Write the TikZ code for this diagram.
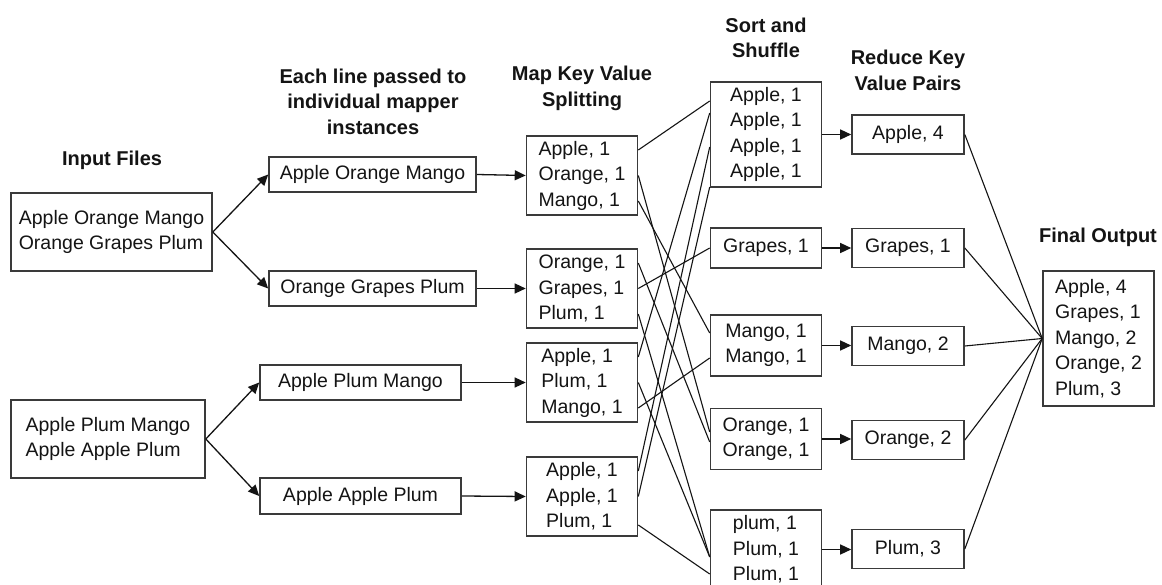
\documentclass[tikz,border=0pt]{standalone}
\usepackage{fontspec}
\setmainfont{Liberation Sans}
\usetikzlibrary{arrows.meta}
\definecolor{boxc}{HTML}{3A3A3A}
\definecolor{txt}{HTML}{141414}
\begin{document}
\begin{tikzpicture}[x=1pt,y=-1pt,
  box/.style={draw=boxc,line width=1.6pt,inner sep=0pt,align=left,
    font=\fontsize{19.5}{25.5}\selectfont,text=txt},
  hd/.style={font=\bfseries\fontsize{20}{25.5}\selectfont,align=center,inner sep=0pt,text=txt},
  arr/.style={line width=1.3pt,draw=txt,-{Triangle[length=11pt,width=10pt]}},
  link/.style={line width=1.1pt,draw=txt}]
\useasboundingbox[fill=white] (0,0) rectangle (1162,585);

% headings
\node[hd] (h1) at (112,160) {Input Files};
\node[hd] (h2) at (373,101.5) {Each line passed to\\individual mapper\\instances};
\node[hd] (h3) at (582,88.5) {Map Key Value\\Splitting};
\node[hd] (h4) at (766,38) {Sort and\\Shuffle};
\node[hd] (h5) at (908,70.5) {Reduce Key\\Value Pairs};
\node[hd] (h6) at (1098,237) {Final Output};

% input files
\node[box,minimum width=201pt,minimum height=78pt] (I1) at (111.5,232) {Apple Orange Mango\\Orange Grapes Plum};
\node[box,minimum width=194pt,minimum height=78pt] (I2) at (108,439) {Apple Plum Mango\\Apple Apple Plum};

% lines
\node[box,minimum width=207pt,minimum height=35pt] (A1) at (372.5,174.5) {Apple Orange Mango};
\node[box,minimum width=207pt,minimum height=35pt] (A2) at (372.5,288.5) {Orange Grapes Plum};
\node[box,minimum width=201pt,minimum height=35pt] (A3) at (360.5,382.5) {Apple Plum Mango};
\node[box,minimum width=201pt,minimum height=36pt] (A4) at (360.5,496) {Apple Apple Plum};

% map
\node[box,minimum width=111pt,minimum height=79pt] (M1) at (582,175.5) {Apple, 1\\Orange, 1\\Mango, 1};
\node[box,minimum width=111pt,minimum height=79pt] (M2) at (582,288.5) {Orange, 1\\Grapes, 1\\Plum, 1};
\node[box,minimum width=111pt,minimum height=79pt] (M3) at (582,382.5) {Apple, 1\\Plum, 1\\Mango, 1};
\node[box,minimum width=111pt,minimum height=79pt] (M4) at (582,496.5) {Apple, 1\\Apple, 1\\Plum, 1};

% sort and shuffle
\node[box,minimum width=111pt,minimum height=105pt] (S1) at (766,134.5) {Apple, 1\\Apple, 1\\Apple, 1\\Apple, 1};
\node[box,minimum width=111pt,minimum height=40pt] (S2) at (766,248) {Grapes, 1};
\node[box,minimum width=111pt,minimum height=61pt] (S3) at (766,345.5) {Mango, 1\\Mango, 1};
\node[box,minimum width=111pt,minimum height=61pt] (S4) at (766,439) {Orange, 1\\Orange, 1};
\node[box,minimum width=111pt,minimum height=79pt] (S5) at (766,549.5) {plum, 1\\Plum, 1\\Plum, 1};

% reduce
\node[box,minimum width=112pt,minimum height=39pt] (R1) at (908,134.5) {Apple, 4};
\node[box,minimum width=112pt,minimum height=39pt] (R2) at (908,248) {Grapes, 1};
\node[box,minimum width=112pt,minimum height=39pt] (R3) at (908,346) {Mango, 2};
\node[box,minimum width=112pt,minimum height=39pt] (R4) at (908,440) {Orange, 2};
\node[box,minimum width=112pt,minimum height=39pt] (R5) at (908,549) {Plum, 3};

% final
\node[box,minimum width=111pt,minimum height=135pt] (F) at (1098.5,338.5) {Apple, 4\\Grapes, 1\\Mango, 2\\Orange, 2\\Plum, 3};

% arrows input -> lines
\draw[arr] (I1.east) -- (A1.west);
\draw[arr] (I1.east) -- (A2.west);
\draw[arr] (I2.east) -- (A3.west);
\draw[arr] (I2.east) -- (A4.west);

% arrows lines -> map
\draw[arr] (A1.east) -- (M1.west);
\draw[arr] (A2.east) -- (M2.west);
\draw[arr] (A3.east) -- (M3.west);
\draw[arr] (A4.east) -- (M4.west);

% shuffle links
\draw[link] (M1.east |- 0,150) -- (S1.west |- 0,101);
\draw[link] (M3.east |- 0,357) -- (S1.west |- 0,113);
\draw[link] (M4.east |- 0,471) -- (S1.west |- 0,147);
\draw[link] (M4.east |- 0,496.5) -- (S1.west |- 0,187);
\draw[link] (M2.east |- 0,288.5) -- (S2.west |- 0,248);
\draw[link] (M1.east |- 0,201) -- (S3.west |- 0,333);
\draw[link] (M3.east |- 0,408) -- (S3.west |- 0,358);
\draw[link] (M1.east |- 0,175.5) -- (S4.west |- 0,432);
\draw[link] (M2.east |- 0,263) -- (S4.west |- 0,442);
\draw[link] (M2.east |- 0,314) -- (S5.west |- 0,557);
\draw[link] (M3.east |- 0,382.5) -- (S5.west |- 0,557);
\draw[link] (M4.east |- 0,525) -- (S5.west |- 0,574);

% arrows shuffle -> reduce
\draw[arr] (S1.east) -- (S1.east -| R1.west);
\draw[arr] (S2.east) -- (S2.east -| R2.west);
\draw[arr] (S3.east) -- (S3.east -| R3.west);
\draw[arr] (S4.east) -- (S4.east -| R4.west);
\draw[arr] (S5.east) -- (S5.east -| R5.west);

% reduce -> final
\draw[link] (R1.east) -- (F.west);
\draw[link] (R2.east) -- (F.west);
\draw[link] (R3.east) -- (F.west);
\draw[link] (R4.east) -- (F.west);
\draw[link] (R5.east) -- (F.west);
\end{tikzpicture}
\end{document}
